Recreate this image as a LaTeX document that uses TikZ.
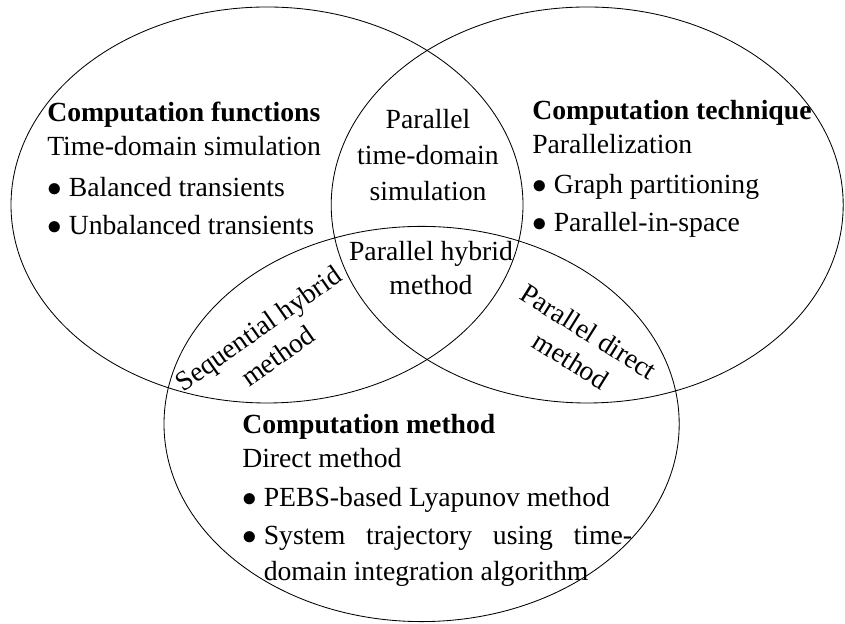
\documentclass[tikz,border=0pt]{standalone}
\usepackage{fontspec}
\setmainfont{Liberation Serif}
\usepackage{tikz}
\usetikzlibrary{positioning}

\begin{document}
\begin{tikzpicture}[font=\fontsize{19.7}{24}\selectfont,
  venn/.style={line width=0.6pt},
  setlbl/.style={inner sep=0pt, anchor=north west, align=left},
  cutlbl/.style={inner sep=0pt, align=center}
]
  \useasboundingbox (0,0) rectangle (21.125,15.6);

  % the three sets
  \draw[venn] (6.675,10.475) ellipse [x radius=6.4, y radius=4.95];
  \draw[venn] (14.68,10.475) ellipse [x radius=6.4, y radius=4.95];
  \draw[venn] (10.54,5.0) ellipse [x radius=6.44, y radius=4.94];

  % Functions
  \node[setlbl] (func) at (1.175, 13.05) {
    \textbf{Computation functions}\\
    Time-domain simulation\\[5pt]
    $\bullet$ Balanced transients\\[3pt]
    $\bullet$ Unbalanced transients
  };

  % Technique
  \node[setlbl] (tech) at (13.3, 13.1) {
    \textbf{Computation technique}\\
    Parallelization\\[4.5pt]
    $\bullet$ Graph partitioning\\[3pt]
    $\bullet$ Parallel-in-space
  };

  % Method
  \node[setlbl] (meth) at (6.05, 5.25) {
    \textbf{Computation method}\\
    Direct method\\[4pt]
    $\bullet$ PEBS-based Lyapunov method\\[3pt]
    $\bullet$ \makebox[262pt][s]{System trajectory using time-}\\[1.5pt]
    \hphantom{$\bullet$ }domain integration algorithm
  };

  % Overlaps
  \node[cutlbl, anchor=north] (ptds) at (10.7, 12.875) {Parallel\\[1.5pt] time-domain\\[1.5pt] simulation};
  \node[cutlbl, anchor=north] (phm) at (10.775, 9.575) {Parallel hybrid\\[0.5pt] method};
  \node[cutlbl, rotate=35] (shm) at (6.7, 7.05) {Sequential hybrid\\ method};
  \node[cutlbl, rotate=-32] (pdm) at (14.5, 6.95) {Parallel direct\\ method};
\end{tikzpicture}
\end{document}
